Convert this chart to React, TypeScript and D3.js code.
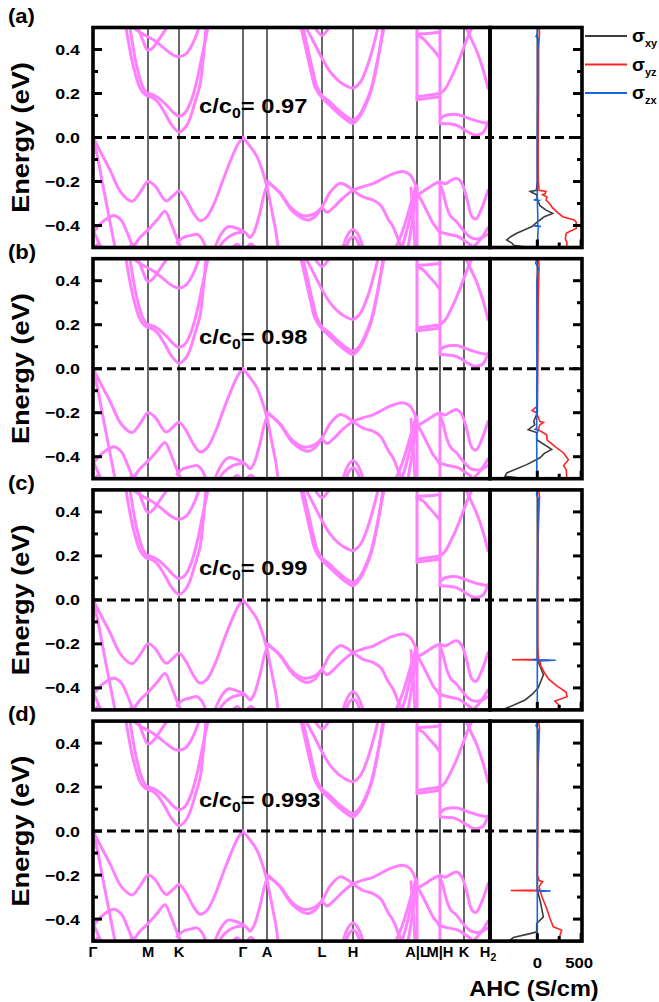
import React from 'react';
import * as d3 from 'd3';

type P = [number, number];

// ---------- k-path ----------
const kTicks = [0, 55, 86, 150, 174, 229, 260, 324, 347, 371, 397];
const kLabels = ['Γ', 'M', 'K', 'Γ', 'A', 'L', 'H', 'A|L', 'M|H', 'K', 'H2'];

// ---------- panels ----------
const panelLabels = ['(a)', '(b)', '(c)', '(d)'];
const ratios = ['0.97', '0.98', '0.99', '0.993'];
const eMajor = [-0.4, -0.2, 0, 0.2, 0.4];
const eMinor = [-0.3, -0.1, 0.1, 0.3];
const ahcTickLabels = [0, 500];
const ahcMinor = [250];

// ---------- bands [k, E(eV)] ----------
const cb1: P[] = [[33,0.5],[40,0.33],[47,0.225],[52,0.195],[55,0.188],[60,0.18],[65,0.16],[72,0.11],[79,0.055],[86,0.025],[93,0.05],[97,0.087],[102,0.16],[107,0.24],[110,0.35],[113,0.5]];
const cb2: P[] = [[37,0.5],[43,0.34],[49,0.24],[53,0.207],[56,0.2],[61,0.192],[66,0.178],[74,0.145],[80,0.115],[86,0.097],[92,0.112],[98,0.165],[104,0.26],[109,0.37],[115,0.5]];
const cb3: P[] = [[45,0.5],[50,0.44],[54,0.4],[57,0.398],[62,0.42],[68,0.46],[74,0.5]];
const cb4: P[] = [[40,0.5],[50,0.47],[60,0.445],[70,0.41],[80,0.375],[86,0.367],[93,0.38],[100,0.43],[106,0.5]];
const cb5a: P[] = [[208,0.5],[213,0.4],[218,0.3],[222,0.23],[229,0.18],[236,0.15],[244,0.115],[252,0.085],[260,0.065],[266,0.09],[272,0.14],[278,0.21],[284,0.33],[290,0.5]];
const cb5b: P[] = [[210,0.5],[215,0.4],[220,0.3],[224,0.23],[229,0.19],[236,0.165],[244,0.13],[252,0.1],[260,0.08],[266,0.1],[272,0.15],[278,0.22],[284,0.34],[291,0.5]];
const cb6: P[] = [[213,0.5],[220,0.44],[229,0.36],[237,0.3],[245,0.26],[253,0.235],[260,0.225],[267,0.25],[274,0.32],[280,0.41],[285,0.5]];
const cbX: P[] = [[222,0.5],[229,0.465],[236,0.5]];
const lmc1: P[] = [[324,0.47],[335,0.473],[347,0.478]];
const lmc2: P[] = [[324,0.465],[330,0.45],[336,0.42],[342,0.39],[347,0.36]];
const lmc3: P[] = [[324,0.185],[335,0.192],[347,0.2]];
const lmc4: P[] = [[324,0.172],[335,0.178],[347,0.185]];
const mhc1: P[] = [[347,0.2],[352,0.22],[358,0.27],[364,0.33],[370,0.4],[375,0.46],[379,0.5]];
const mhc2: P[] = [[373,0.5],[378,0.45],[384,0.39],[390,0.31],[395,0.224]];
const cb7: P[] = [[347,0.084],[352,0.1],[357,0.105],[364,0.105],[371,0.095],[377,0.085],[386,0.072],[395,0.064]];
const cb8: P[] = [[347,0.064],[355,0.062],[362,0.058],[368,0.045],[375,0.025],[380,0.013],[385,0.012],[390,0.022],[395,0.07]];
const jumpLc: P[] = [[324,0.17],[324,0.5]];
const jumpMc: P[] = [[347,0.065],[347,0.5]];

const vb1: P[] = [[0,0],[8,-0.07],[17,-0.148],[28,-0.25],[39,-0.29],[47,-0.25],[55,-0.2],[62,-0.22],[73,-0.288],[80,-0.265],[86,-0.243],[93,-0.28],[100,-0.34],[107,-0.378],[114,-0.36],[122,-0.29],[130,-0.193],[138,-0.1],[145,-0.03],[150,0]];
const vbSteep: P[] = [[0,0],[5,-0.1],[10,-0.22],[16,-0.36],[22,-0.5]];
const vbHump: P[] = [[0,-0.43],[8,-0.39],[15,-0.365],[21,-0.355],[28,-0.375],[34,-0.43],[40,-0.5]];
const vbG2: P[] = [[0,-0.42],[4,-0.46],[8,-0.5]];
const vb3: P[] = [[40,-0.5],[47,-0.455],[55,-0.42],[64,-0.375],[72,-0.335],[78,-0.39],[84,-0.46],[88,-0.5]];
const vb4: P[] = [[84,-0.48],[90,-0.455],[98,-0.445],[104,-0.44],[108,-0.455],[113,-0.5]];
const vb5: P[] = [[122,-0.5],[128,-0.44],[135,-0.405],[142,-0.41],[150,-0.425],[154,-0.44],[157,-0.455],[161,-0.43],[167,-0.34],[171,-0.26],[175,-0.205]];
const vb6: P[] = [[126,-0.5],[132,-0.465],[140,-0.44],[150,-0.43]];
const vbGA: P[] = [[150,0],[157,-0.04],[164,-0.087],[170,-0.16],[174,-0.224],[177,-0.29],[180,-0.36],[183,-0.43],[185,-0.5]];
const vbA1: P[] = [[175,-0.205],[187,-0.25],[197,-0.314],[205,-0.345],[212,-0.357],[222,-0.345],[229,-0.315],[237,-0.25],[247,-0.208],[254,-0.22],[260,-0.24],[270,-0.27],[280,-0.284],[288,-0.31],[295,-0.37],[300,-0.405],[305,-0.46],[309,-0.5]];
const vbA2: P[] = [[175,-0.2],[187,-0.254],[200,-0.337],[214,-0.375],[222,-0.36],[229,-0.322],[234,-0.34],[240,-0.32],[250,-0.275],[260,-0.24],[270,-0.223],[280,-0.21],[290,-0.186],[300,-0.165],[310,-0.155],[317,-0.17],[322,-0.21],[324,-0.24]];
const arcH1: P[] = [[250,-0.5],[255,-0.44],[260,-0.418],[265,-0.44],[270,-0.5]];
const arcH2: P[] = [[253,-0.5],[257,-0.46],[260,-0.45],[263,-0.46],[267,-0.5]];
const arcS1: P[] = [[2,-0.5],[5,-0.485],[8,-0.5]];
const arcS2: P[] = [[36,-0.5],[40,-0.488],[44,-0.5]];
const arcS3: P[] = [[140,-0.5],[144,-0.485],[148,-0.5]];
const arcS4: P[] = [[154,-0.5],[158,-0.484],[162,-0.5]];
const s1: P[] = [[303,-0.5],[310,-0.42],[316,-0.33],[321,-0.25],[323,-0.22]];
const s2: P[] = [[309,-0.5],[314,-0.42],[319,-0.32],[323,-0.24]];
const s3: P[] = [[315,-0.5],[318,-0.42],[321,-0.33],[324,-0.26]];
const s4: P[] = [[318,-0.23],[320,-0.35],[322,-0.5]];
const lmv1: P[] = [[324,-0.262],[330,-0.245],[337,-0.224],[342,-0.21],[347,-0.2]];
const lmv2: P[] = [[324,-0.25],[330,-0.3],[335,-0.345],[340,-0.39],[345,-0.42],[347,-0.436]];
const mhv1: P[] = [[347,-0.2],[352,-0.21],[358,-0.195],[364,-0.186],[369,-0.21],[374,-0.28],[379,-0.36],[383,-0.37],[388,-0.33],[395,-0.24]];
const mhv2: P[] = [[347,-0.21],[350,-0.25],[354,-0.32],[358,-0.36],[363,-0.38],[370,-0.42],[378,-0.455],[386,-0.46],[395,-0.44]];
const mhv3: P[] = [[347,-0.43],[355,-0.44],[365,-0.45],[372,-0.47],[378,-0.49]];
const mhv4: P[] = [[380,-0.5],[388,-0.46],[395,-0.41]];
const jumpLv: P[] = [[324,-0.5],[324,-0.22]];
const jumpMv: P[] = [[347,-0.5],[347,-0.2]];

const bands: P[][] = [cb1, cb2, cb3, cb4, cb5a, cb5b, cb6, cbX, lmc1, lmc2, lmc3, lmc4, mhc1, mhc2, cb7, cb8, jumpLc, jumpMc,
  vb1, vbSteep, vbHump, vbG2, vb3, vb4, vb5, vb6, vbGA, vbA1, vbA2, arcH1, arcH2, arcS1, arcS2, arcS3, arcS4,
  s1, s2, s3, s4, lmv1, lmv2, mhv1, mhv2, mhv3, mhv4, jumpLv, jumpMv];

// ---------- AHC [E(eV), sigma(S/cm)] ----------
const xyA: P[] = [[0.5,0],[-0.2,0],[-0.24,-10],[-0.245,-80],[-0.25,-60],[-0.26,-5],[-0.28,0],[-0.31,30],[-0.33,100],[-0.345,175],[-0.36,80],[-0.375,30],[-0.39,-20],[-0.405,-60],[-0.42,-150],[-0.435,-235],[-0.45,-300],[-0.466,-350],[-0.48,-290],[-0.49,-270],[-0.497,-150],[-0.5,-20]];
const yzA: P[] = [[0.5,20],[0.48,25],[0.4,15],[0.2,15],[0,10],[-0.15,10],[-0.2,12],[-0.24,20],[-0.245,100],[-0.255,90],[-0.26,60],[-0.27,110],[-0.284,100],[-0.3,140],[-0.32,175],[-0.34,230],[-0.36,290],[-0.375,420],[-0.385,445],[-0.4,440],[-0.413,445],[-0.425,380],[-0.435,330],[-0.46,320],[-0.48,340],[-0.5,330]];
const zxA: P[] = [[0.5,5],[0.47,0],[0.46,-15],[0.45,10],[0.4,5],[0.2,5],[0,0],[-0.2,0],[-0.28,0],[-0.284,-40],[-0.286,20],[-0.29,0],[-0.35,5],[-0.4,5],[-0.402,-40],[-0.404,40],[-0.406,10],[-0.45,5],[-0.5,10]];

const xyB: P[] = [[0.5,0],[-0.2,0],[-0.239,-40],[-0.255,-30],[-0.277,-103],[-0.29,-7],[-0.323,-7],[-0.367,164],[-0.385,80],[-0.405,31],[-0.436,-121],[-0.474,-349],[-0.489,-369],[-0.497,-200],[-0.5,-40]];
const yzB: P[] = [[0.5,15],[0.47,20],[0.3,10],[0,5],[-0.17,0],[-0.19,-60],[-0.2,-10],[-0.24,30],[-0.244,70],[-0.255,30],[-0.277,10],[-0.3,107],[-0.323,110],[-0.353,200],[-0.383,300],[-0.414,355],[-0.44,300],[-0.46,330],[-0.489,335],[-0.5,330]];
const zxB: P[] = [[0.5,-5],[0.48,-20],[0.46,10],[0.4,-5],[0,-5],[-0.27,-7],[-0.275,-25],[-0.28,10],[-0.3,-7],[-0.5,-5]];

const xyC: P[] = [[0.5,0],[-0.27,0],[-0.3,30],[-0.34,70],[-0.37,40],[-0.4,10],[-0.43,-60],[-0.455,-140],[-0.48,-280],[-0.495,-370],[-0.5,-50]];
const yzC: P[] = [[0.5,15],[0.47,25],[0.3,10],[0,5],[-0.2,5],[-0.25,10],[-0.27,15],[-0.272,-290],[-0.274,145],[-0.276,30],[-0.3,40],[-0.33,80],[-0.36,130],[-0.39,220],[-0.42,330],[-0.44,340],[-0.46,200],[-0.48,250],[-0.5,260]];
const zxC: P[] = [[0.5,5],[0.48,-10],[0.46,10],[0,0],[-0.27,0],[-0.272,-60],[-0.274,210],[-0.276,0],[-0.5,0]];

const xyD: P[] = [[0.5,0],[-0.27,0],[-0.283,10],[-0.314,31],[-0.39,69],[-0.42,-7],[-0.458,-7],[-0.466,-83],[-0.484,-274],[-0.496,-312],[-0.5,-100]];
const yzD: P[] = [[0.5,15],[0.47,25],[0.3,10],[0,5],[-0.2,0],[-0.225,20],[-0.23,60],[-0.24,40],[-0.253,20],[-0.268,30],[-0.27,-304],[-0.272,31],[-0.28,40],[-0.3,55],[-0.314,69],[-0.352,107],[-0.397,145],[-0.435,183],[-0.45,278],[-0.473,259],[-0.493,240],[-0.5,240]];
const zxD: P[] = [[0.5,5],[0.48,-15],[0.46,10],[0,0],[-0.268,0],[-0.27,-10],[-0.272,153],[-0.274,0],[-0.5,0]];

const ahcXY = [xyA, xyB, xyC, xyD];
const ahcYZ = [yzA, yzB, yzC, yzD];
const ahcZX = [zxA, zxB, zxC, zxD];

const legendNames = [['σ', 'xy'], ['σ', 'yz'], ['σ', 'zx']];

// ---------- styles ----------
const FONT = "Arial, 'Liberation Sans', Helvetica, sans-serif";
const BAND = '#ff80ff';
const C_XY = '#3c3c3c';
const C_YZ = '#ff2424';
const C_ZX = '#1565e0';
const seriesColors = [C_XY, C_YZ, C_ZX];

const X0 = 93, XB = 490, XR = 582;
const HALF = 110;
const E0_FIRST = 137.5, STEP = 231.2;

const kx = d3.scaleLinear().domain([0, 397]).range([X0, XB]);
const ax = d3.scaleLinear().domain([-540, 510]).range([XB, XR]);
const fmt = d3.format('.1f');

function Panel({ i }: { i: number }) {
  const e0 = E0_FIRST + i * STEP;
  const top = e0 - HALF, bot = e0 + HALF;
  const y = d3.scaleLinear().domain([-0.5, 0.5]).range([bot, top]);
  const bandLine = d3.line<P>().x(d => kx(d[0])).y(d => y(d[1])).curve(d3.curveCatmullRom.alpha(0.5));
  const ahcLine = d3.line<P>().x(d => ax(d[1])).y(d => y(d[0]));
  const series = [ahcXY[i], ahcYZ[i], ahcZX[i]];
  const labelY = i === 0 ? e0 - 115 : e0 - 110;
  return (
    <g>
      <defs>
        <clipPath id={`cb${i}`}><rect x={X0} y={top} width={XB - X0} height={bot - top} /></clipPath>
        <clipPath id={`ca${i}`}><rect x={XB} y={top} width={XR - XB} height={bot - top} /></clipPath>
      </defs>
      {kTicks.slice(1, -1).map((k, j) => (
        <line key={j} x1={kx(k)} x2={kx(k)} y1={top} y2={bot} stroke="#2a2a2a" strokeWidth={1.4} />
      ))}
      <g clipPath={`url(#cb${i})`}>
        {bands.map((b, j) => (
          <path key={j} d={bandLine(b) || ''} fill="none" stroke={BAND} strokeWidth={3} strokeLinejoin="round" strokeLinecap="round" />
        ))}
      </g>
      <g clipPath={`url(#ca${i})`}>
        {series.map((s, j) => (
          <path key={j} d={ahcLine(s) || ''} fill="none" stroke={seriesColors[j]} strokeWidth={1.6} />
        ))}
      </g>
      <line x1={X0} x2={XR} y1={y(0)} y2={y(0)} stroke="#000" strokeWidth={3} strokeDasharray="9,5" />
      <rect x={X0} y={top} width={XB - X0} height={bot - top} fill="none" stroke="#000" strokeWidth={3.6} />
      <rect x={XB} y={top} width={XR - XB} height={bot - top} fill="none" stroke="#000" strokeWidth={3.6} />
      {eMajor.map((v, j) => (
        <g key={'M' + j}>
          <line x1={X0} x2={X0 + 9} y1={y(v)} y2={y(v)} stroke="#000" strokeWidth={3} />
          <line x1={XR} x2={XR - 9} y1={y(v)} y2={y(v)} stroke="#000" strokeWidth={3} />
          <text transform={`translate(80,${y(v) + 5.5}) scale(1.15,1)`} textAnchor="end" fontSize={15.5} fontWeight="bold" fontFamily={FONT}>{fmt(v)}</text>
        </g>
      ))}
      {eMinor.map((v, j) => (
        <g key={'m' + j}>
          <line x1={X0} x2={X0 + 5} y1={y(v)} y2={y(v)} stroke="#000" strokeWidth={3} />
          <line x1={XR} x2={XR - 5} y1={y(v)} y2={y(v)} stroke="#000" strokeWidth={3} />
        </g>
      ))}
      {ahcTickLabels.map((v, j) => (
        <line key={'t' + j} x1={ax(v)} x2={ax(v)} y1={bot} y2={bot - 8} stroke="#000" strokeWidth={3} />
      ))}
      {ahcMinor.map((v, j) => (
        <line key={'tm' + j} x1={ax(v)} x2={ax(v)} y1={bot} y2={bot - 5} stroke="#000" strokeWidth={3} />
      ))}
      <text transform={`translate(8,${labelY}) scale(1.05,1)`} fontSize={21} fontWeight="bold" fontFamily={FONT}>{panelLabels[i]}</text>
      <text transform={`translate(29,${e0}) rotate(-90) scale(1.18,1)`} textAnchor="middle" fontSize={23} fontWeight="bold" fontFamily={FONT}>Energy (eV)</text>
      <text transform={`translate(199,${e0 - 24.5}) scale(1.13,1)`} fontSize={21} fontWeight="bold" fontFamily={FONT}>
        c/c<tspan fontSize={14} dy={5}>0</tspan><tspan dy={-5}>= {ratios[i]}</tspan>
      </text>
    </g>
  );
}

export default function App() {
  React.useEffect(() => {
    document.body.style.margin = '0';
  }, []);
  const lastBot = E0_FIRST + 3 * STEP + HALF;
  return (
    <svg width={659} height={1002} style={{ position: 'absolute', left: 0, top: 0, background: '#fff' }}>
      <rect x={0} y={0} width={659} height={1002} fill="#fff" />
      {[0, 1, 2, 3].map(i => <Panel key={i} i={i} />)}
      {kTicks.map((k, j) => (
        <text key={j} transform={`translate(${kx(k) - (kLabels[j] === 'H2' ? 2 : 0)},${lastBot + 16}) scale(1.05,1)`} textAnchor="middle" fontSize={14} fontWeight="bold" fontFamily={FONT}>
          {kLabels[j] === 'H2' ? (<>H<tspan fontSize={10} dy={4}>2</tspan></>) : kLabels[j]}
        </text>
      ))}
      {ahcTickLabels.map((v, j) => (
        <text key={j} transform={`translate(${ax(v) - (v > 0 ? 2 : 0)},${lastBot + 26.5}) scale(1.08,1)`} textAnchor="middle" fontSize={15.5} fontWeight="bold" fontFamily={FONT}>{v}</text>
      ))}
      <text transform={`translate(534,${lastBot + 55}) scale(1.07,1)`} textAnchor="middle" fontSize={22} fontWeight="bold" fontFamily={FONT}>AHC (S/cm)</text>
      {legendNames.map((n, j) => (
        <g key={j}>
          <line x1={585} x2={627} y1={36 + j * 28.5} y2={36 + j * 28.5} stroke={seriesColors[j]} strokeWidth={2} />
          <text x={632} y={42 + j * 28.5} fontSize={19} fontWeight="bold" fontFamily={FONT}>
            {n[0]}<tspan fontSize={11} dy={5}>{n[1]}</tspan>
          </text>
        </g>
      ))}
    </svg>
  );
}
